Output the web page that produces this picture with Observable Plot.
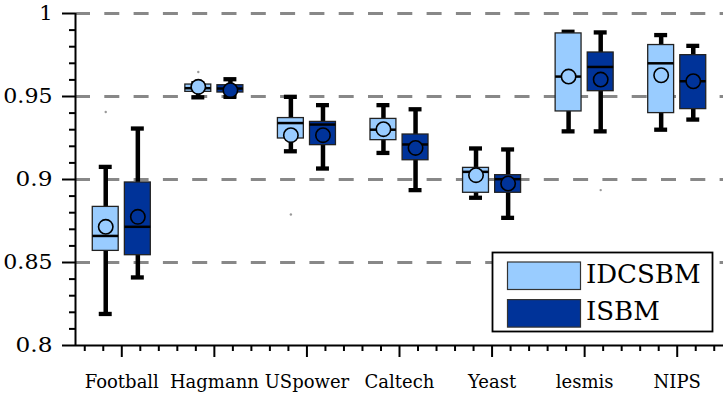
<!DOCTYPE html>
<html>
<head>
<meta charset="utf-8">
<script src="https://cdn.jsdelivr.net/npm/d3@7"></script>
<script src="https://cdn.jsdelivr.net/npm/@observablehq/plot@0.6"></script>
<style>
  html, body { margin: 0; padding: 0; background: #fff; }
  #chart { width: 723px; height: 397px; overflow: hidden; }
  #chart svg, #chart svg text { font-family: "DejaVu Serif", "Liberation Serif", "Times New Roman", Times, serif !important; }
</style>
</head>
<body>
<div id="chart"></div>
<script>
// ---- data ----
const categories = ["Football", "Hagmann", "USpower", "Caltech", "Yeast", "lesmis", "NIPS"];
const series = ["IDCSBM", "ISBM"];
const colors = ["#99ccff", "#003399"];

const whiskerLowIDCSBM  = [0.819, 0.9495, 0.917, 0.916, 0.889, 0.929, 0.930];
const q1IDCSBM          = [0.857, 0.9528, 0.9247, 0.9237, 0.892, 0.941, 0.940];
const medianIDCSBM      = [0.866, 0.955, 0.934, 0.930, 0.9046, 0.962, 0.970];
const q3IDCSBM          = [0.8835, 0.9572, 0.937, 0.9365, 0.907, 0.988, 0.981];
const whiskerHighIDCSBM = [0.9076, 0.958, 0.9498, 0.9448, 0.9187, 0.989, 0.987];
const meanIDCSBM        = [0.8715, 0.9558, 0.9267, 0.9303, 0.9026, 0.962, 0.9628];

const whiskerLowISBM  = [0.841, 0.9498, 0.9066, 0.8936, 0.8769, 0.929, 0.9361];
const q1ISBM          = [0.8544, 0.9524, 0.9207, 0.9116, 0.892, 0.9532, 0.9424];
const medianISBM      = [0.8715, 0.9548, 0.9331, 0.9211, 0.9002, 0.9678, 0.9592];
const q3ISBM          = [0.8982, 0.9568, 0.9347, 0.9271, 0.9026, 0.9765, 0.9749];
const whiskerHighISBM = [0.9307, 0.9604, 0.9448, 0.9423, 0.9181, 0.9886, 0.9805];
const meanISBM        = [0.8775, 0.9538, 0.9267, 0.919, 0.8976, 0.9602, 0.9592];

// outliers: [series, category, value]
const outlierSeries   = ["IDCSBM", "IDCSBM", "IDCSBM", "ISBM"];
const outlierCategory = ["Football", "Hagmann", "USpower", "lesmis"];
const outlierValue    = [0.9407, 0.9648, 0.8789, 0.8936];

const yMajorTicks = [0.8, 0.85, 0.9, 0.95, 1];
const gridTicks = [0.85, 0.9, 0.95, 1];

// ---- layout helpers ----
const offset = {IDCSBM: -0.1734, ISBM: 0.1734};
const halfBox = 0.14;
const halfCap = 0.07;

const stats = {
  IDCSBM: [whiskerLowIDCSBM, q1IDCSBM, medianIDCSBM, q3IDCSBM, whiskerHighIDCSBM, meanIDCSBM],
  ISBM: [whiskerLowISBM, q1ISBM, medianISBM, q3ISBM, whiskerHighISBM, meanISBM]
};
const rows = [];
series.forEach(s => categories.forEach((c, i) => {
  const [lo, q1, med, q3, hi, mean] = stats[s];
  rows.push({series: s, cat: c, x: i + 1 + offset[s], lo: lo[i], q1: q1[i], med: med[i], q3: q3[i], hi: hi[i], mean: mean[i]});
}));
const outliers = outlierValue.map((v, k) => ({
  series: outlierSeries[k],
  x: categories.indexOf(outlierCategory[k]) + 1 + offset[outlierSeries[k]],
  y: v
}));

const yMinor = d3.range(81, 100).filter(v => v % 5 !== 0).map(v => v / 100);
const xMajor = d3.range(1, categories.length + 1);
const xMinor = d3.range(3, 38).filter(v => v % 5 !== 0).map(v => v / 5);

const FONT = "DejaVu Serif, Liberation Serif, serif";

const plot = Plot.plot({
  width: 723,
  height: 397,
  marginLeft: 75,
  marginRight: 0,
  marginTop: 13,
  marginBottom: 52,
  x: {domain: [0.5, 7.5], axis: null},
  y: {domain: [0.8, 1], axis: null},
  color: {domain: series, range: colors},
  style: {background: "white", color: "black", overflow: "visible", fontFamily: FONT},
  marks: [
    Plot.ruleY(gridTicks, {stroke: "#888", strokeWidth: 3, strokeDasharray: "15,14.3"}),
    Plot.ruleX(rows, {x: "x", y1: "lo", y2: "hi", stroke: "black", strokeWidth: 4.5}),
    Plot.ruleY(rows, {y: "lo", x1: d => d.x - halfCap, x2: d => d.x + halfCap, stroke: "black", strokeWidth: 4.3}),
    Plot.ruleY(rows, {y: "hi", x1: d => d.x - halfCap, x2: d => d.x + halfCap, stroke: "black", strokeWidth: 4.3}),
    Plot.rect(rows, {x1: d => d.x - halfBox, x2: d => d.x + halfBox, y1: "q1", y2: "q3", fill: "series", stroke: "#222", strokeWidth: 1.3}),
    Plot.ruleY(rows, {y: "med", x1: d => d.x - halfBox, x2: d => d.x + halfBox, stroke: "black", strokeWidth: 2.5}),
    Plot.dot(rows, {x: "x", y: "mean", r: 7.2, fill: "series", stroke: "black", strokeWidth: 1.6}),
    Plot.dot(outliers, {x: "x", y: "y", r: 1.2, fill: "#999", stroke: null}),
    Plot.ruleX([0.5], {stroke: "black", strokeWidth: 2}),
    Plot.ruleY([0.8], {stroke: "black", strokeWidth: 2}),
    Plot.axisY({ticks: yMinor, tickSize: 6, strokeWidth: 2, tickFormat: () => "", label: null}),
    Plot.axisY({ticks: yMajorTicks, tickSize: 13, tickPadding: 10, strokeWidth: 2, fontSize: 21, label: null,
      fontFamily: FONT, tickFormat: d => String(+d.toFixed(2))}),
    Plot.axisX({ticks: xMinor, tickSize: 6, strokeWidth: 2, tickFormat: () => "", label: null}),
    Plot.axisX({ticks: xMajor, tickSize: 12, tickPadding: 18, strokeWidth: 2, fontSize: 18, label: null,
      fontFamily: FONT, tickFormat: i => categories[i - 1]})
  ]
});

document.getElementById("chart").appendChild(plot);

// fit tick labels to the widths measured on the reference
const svg = d3.select(plot);
function fitWidth(sel, target) {
  sel.each(function() {
    const len = this.getComputedTextLength();
    const t = target(this.textContent, len);
    if (len > 0 && t) { this.setAttribute("textLength", t); this.setAttribute("lengthAdjust", "spacingAndGlyphs"); }
  });
}
fitWidth(svg.selectAll("g[aria-label='y-axis tick label'] text"), (s, len) => Math.max(len, s.length * 12.3));
fitWidth(svg.selectAll("g[aria-label='x-axis tick label'] text"), (s, len) => len * 1.0);

// legend inside the plot area (lower right)
const lg = svg.append("g").attr("class", "legend").attr("text-anchor", "start");
lg.append("rect").attr("x", 492.5).attr("y", 252.5).attr("width", 220).attr("height", 79)
  .attr("fill", "white").attr("stroke", "black").attr("stroke-width", 1.8);
series.forEach((s, k) => {
  const y0 = 262 + k * 37.6;
  lg.append("rect").attr("x", 507.5).attr("y", y0).attr("width", 73).attr("height", 27.5)
    .attr("fill", colors[k]).attr("stroke", "#333").attr("stroke-width", 1.2);
  lg.append("text").attr("x", 586).attr("y", y0 + 20.5)
    .attr("font-size", 26).attr("font-family", FONT).attr("fill", "black").attr("text-anchor", "start")
    .text(s);
});
</script>
</body>
</html>
